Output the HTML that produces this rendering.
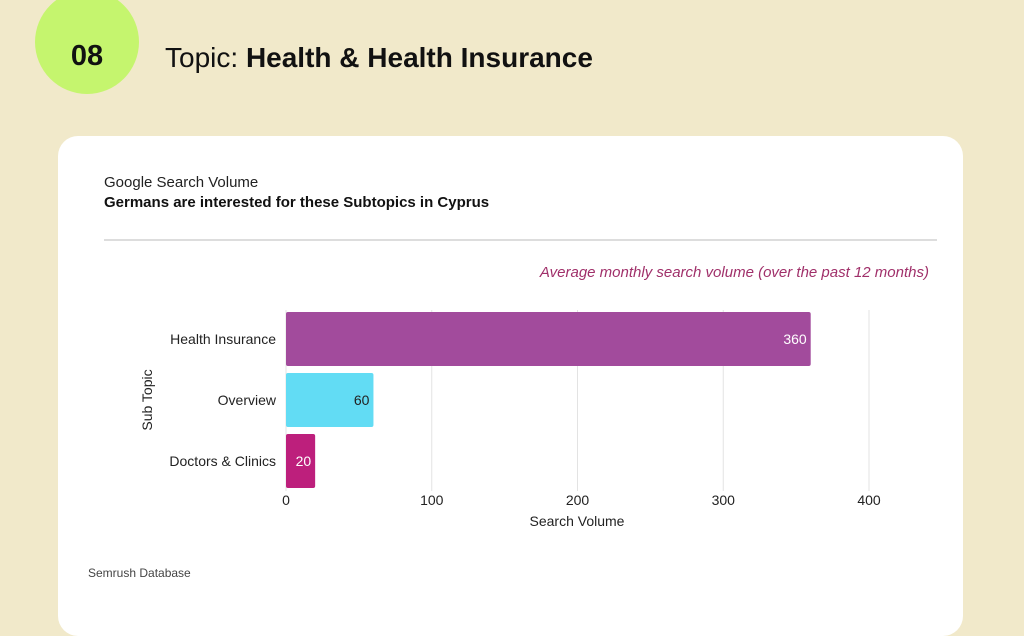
<!DOCTYPE html>
<html><head><meta charset="utf-8"><style>
body{margin:0;width:1024px;height:599px;overflow:hidden;background:#f1e9ca;font-family:"Liberation Sans",sans-serif;position:relative}
.abs{position:absolute}
</style></head><body>
<div class="abs" style="left:35px;top:-10px;width:104px;height:104px;border-radius:50%;background:#c5f56e"></div>
<div class="abs" style="left:35px;top:40px;width:104px;text-align:center;font-size:29px;font-weight:bold;color:#111">08</div>
<div class="abs" style="left:165px;top:42px;font-size:28px;color:#111">Topic: <b>Health &amp; Health Insurance</b></div>
<div class="abs" style="left:58px;top:136px;width:905px;height:500px;border-radius:20px;background:#fff"></div>
<div class="abs" style="left:104px;top:174px;font-size:15px;color:#222">Google Search Volume</div>
<div class="abs" style="left:104px;top:194px;font-size:15px;font-weight:bold;color:#111">Germans are interested for these Subtopics in Cyprus</div>
<div class="abs" style="left:104px;top:239px;width:833px;height:2px;background:#ddd"></div>
<div class="abs" style="right:95px;top:264px;font-size:15px;font-style:italic;color:#a0306a">Average monthly search volume (over the past 12 months)</div>
<div class="abs" style="left:88px;top:566px;font-size:12px;color:#444">Semrush Database</div>
<svg id="chart" class="abs" style="left:0;top:0" width="1024" height="599" font-family="Liberation Sans, sans-serif"></svg>
<script>
const categories=["Health Insurance","Overview","Doctors & Clinics"];
const values=[360,60,20];
const colors=["#a24b9c","#62dcf4","#bd1f7c"];
const ticks=[0,100,200,300,400];
const svg=document.getElementById('chart');
const NS='http://www.w3.org/2000/svg';
const x0=286,x1=869,vmax=400,top0=310,band=61;
const xs=v=>x0+(x1-x0)*v/vmax;
const ys=i=>top0+i*band;
function mk(t,a,txt){const e=document.createElementNS(NS,t);for(const k in a)e.setAttribute(k,a[k]);if(txt!=null)e.textContent=txt;svg.appendChild(e);return e;}
ticks.forEach(t=>{
 const l=mk('line',{x1:xs(t),x2:xs(t),y1:top0,y2:top0+3*band-2,stroke:'#e3e3e3','stroke-width':1});
 
 
 const tx=mk('text',{x:xs(t),y:505,'text-anchor':'middle','font-size':14,fill:'#222'},t);
 
 
});
categories.forEach((c,i)=>{
 const y=ys(i)+2,h=band-7;
 const r=mk('rect',{x:x0,y:y,width:xs(values[i])-x0,height:h,rx:2,fill:colors[i]});
 
 
 const lab=mk('text',{x:276,y:y+h/2+5,'text-anchor':'end','font-size':14,fill:'#222'},c);
 
 
 const v=mk('text',{x:xs(values[i])-4,y:y+h/2+5,'text-anchor':'end','font-size':14,fill:i==1?'#222':'#fff'},values[i]);
 
 
});
const xt=mk('text',{x:577,y:526,'text-anchor':'middle','font-size':14,fill:'#222'},'Search Volume');


const yt=mk('text',{x:0,y:0,transform:'translate(152,400) rotate(-90)','text-anchor':'middle','font-size':14,fill:'#222'},'Sub Topic');


</script>
</body></html>
